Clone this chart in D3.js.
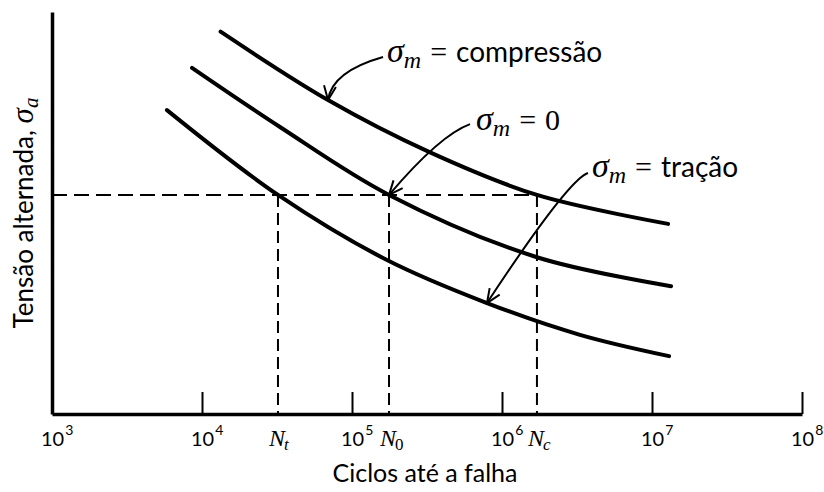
<!DOCTYPE html>
<html><head><meta charset="utf-8">
<script src="https://cdn.jsdelivr.net/npm/d3@7"></script>
<style>body{margin:0;background:#fff}</style>
</head><body>
<svg id="c" width="824" height="492"></svg>
<script>
// ---- data (cycles to failure, alternating stress in arbitrary units) ----
const decadeExponents = [3, 4, 5, 6, 7, 8];
const cyclesCompression = [13300, 69200, 326000, 1710000, 12800000];
const stressCompression = [95.1, 78.1, 65.2, 54.5, 47.3];
const cyclesZero = [8580, 33100, 176500, 1710000, 13400000];
const stressZero = [86.1, 71.4, 54.5, 39.0, 31.8];
const cyclesTension = [5840, 32100, 171000, 794000, 3310000, 13000000];
const stressTension = [75.6, 54.5, 38.3, 27.6, 19.7, 14.4];
const levelStress = 54.5;
const markedCycles = [32100, 176500, 1710000];
const markedSubs = ["t", "0", "c"];
const labelTexts = ["compressão", "0", "tração"];
// arrows: [start, control, tip] in (cycles, stress)
const arrowCompression = [[161000, 88.8], [73600, 85.2], [69200, 78.1]];
const arrowZero = [[612000, 72.1], [386000, 69.4], [176500, 54.5]];
const arrowTension = [[3740000, 59.95], [2750000, 58.2], [794000, 27.6]];

const svg = d3.select("#c");
const x = d3.scaleLog().domain([1e3, 1e8]).range([52, 802]);
const y = d3.scaleLinear().domain([0, 100]).range([414, 12]);
const sansFont = "Lato, 'Open Sans', sans-serif";
const mathFont = "'Liberation Serif', 'DejaVu Serif', serif";

// arrowhead marker
svg.append("defs").append("marker")
  .attr("id", "ah").attr("markerUnits", "userSpaceOnUse")
  .attr("viewBox", "-16 -8 18 16").attr("refX", 0).attr("refY", 0)
  .attr("markerWidth", 18).attr("markerHeight", 16).attr("orient", "auto")
  .append("path").attr("d", "M-14,-6 L0,0 L-14,6")
  .attr("fill", "none").attr("stroke", "#000").attr("stroke-width", 2);

// dashed guide lines
svg.append("line")
  .attr("x1", x(1e3)).attr("x2", x(markedCycles[2]))
  .attr("y1", y(levelStress)).attr("y2", y(levelStress))
  .attr("stroke", "#000").attr("stroke-width", 2).attr("stroke-dasharray", "15,7");
svg.selectAll(".vguide").data(markedCycles).enter().append("line")
  .attr("x1", d => x(d)).attr("x2", d => x(d))
  .attr("y1", y(levelStress)).attr("y2", y(0))
  .attr("stroke", "#000").attr("stroke-width", 2).attr("stroke-dasharray", "12,6");

// axes
const xAxis = svg.append("g").attr("transform", `translate(0,${y(0)})`)
  .call(d3.axisBottom(x).tickValues(decadeExponents.map(e => Math.pow(10, e)))
    .tickSize(-22).tickSizeOuter(0).tickFormat(""));
xAxis.select(".domain").attr("stroke-width", 3.5).attr("stroke", "#000");
xAxis.selectAll(".tick line").attr("stroke-width", 2).attr("stroke", "#000");

const yAxis = svg.append("g").attr("transform", `translate(${x(1e3)},0)`)
  .call(d3.axisLeft(y).tickValues([]).tickSizeOuter(0));
yAxis.select(".domain").attr("stroke-width", 3.5).attr("stroke", "#000");

// curves
const line = d3.line().x(d => x(d[0])).y(d => y(d[1])).curve(d3.curveCatmullRom.alpha(0.5));
const series = [
  d3.zip(cyclesCompression, stressCompression),
  d3.zip(cyclesZero, stressZero),
  d3.zip(cyclesTension, stressTension)
];
svg.selectAll(".curve").data(series).enter().append("path")
  .attr("d", line).attr("fill", "none").attr("stroke", "#000")
  .attr("stroke-width", 4).attr("stroke-linecap", "round");

// annotation arrows
const arrows = [arrowCompression, arrowZero, arrowTension];
arrows.forEach(a => {
  const p = a.map(d => [x(d[0]), y(d[1])]);
  const path = d3.path();
  path.moveTo(p[0][0], p[0][1]);
  path.quadraticCurveTo(p[1][0], p[1][1], p[2][0], p[2][1]);
  svg.append("path").attr("d", path.toString()).attr("fill", "none")
    .attr("stroke", "#000").attr("stroke-width", 2).attr("marker-end", "url(#ah)");
});

// annotation labels
const labelOffsets = [[4, 5], [6, 6], [4, 4]];
arrows.forEach((a, i) => {
  const sx = x(a[0][0]) + labelOffsets[i][0], sy = y(a[0][1]) + labelOffsets[i][1];
  const t = svg.append("text").attr("x", sx).attr("y", sy).attr("fill", "#000");
  t.append("tspan").attr("font-family", mathFont).attr("font-style", "italic")
    .attr("font-size", 34).text("σ");
  t.append("tspan").attr("font-family", mathFont).attr("font-style", "italic")
    .attr("font-size", 24).attr("dy", 6).text("m");
  t.append("tspan").attr("font-family", mathFont).attr("font-size", 30)
    .attr("dy", -6).attr("dx", 9).text("=");
  if (i === 1) {
    t.append("tspan").attr("font-family", mathFont).attr("font-size", 30)
      .attr("dx", 9).text(labelTexts[i]);
  } else {
    t.append("tspan").attr("font-family", sansFont).attr("font-size", 28)
      .attr("dx", 9).text(labelTexts[i]);
  }
});

// tick labels 10^n
decadeExponents.forEach(e => {
  const cx = x(Math.pow(10, e));
  const t = svg.append("text").attr("x", cx - 11).attr("y", 446)
    .attr("font-family", sansFont).attr("fill", "#000");
  t.append("tspan").attr("font-size", 20).text("10");
  t.append("tspan").attr("font-size", 14).attr("dy", -11).attr("dx", 1).text(e);
});

// N labels
markedCycles.forEach((c, i) => {
  const cx = x(c);
  const t = svg.append("text").attr("x", cx - 9).attr("y", 446)
    .attr("font-family", mathFont).attr("fill", "#000");
  t.append("tspan").attr("font-style", "italic").attr("font-size", 24).text("N");
  t.append("tspan").attr("font-style", i === 1 ? "normal" : "italic")
    .attr("font-size", 17).attr("dy", 4).attr("dx", -1).text(markedSubs[i]);
});

// axis titles
svg.append("text").attr("x", 425).attr("y", 482).attr("text-anchor", "middle")
  .attr("font-family", sansFont).attr("font-size", 25).attr("fill", "#000")
  .text("Ciclos até a falha");

const yt = svg.append("text")
  .attr("transform", `translate(33,${y(50)}) rotate(-90)`)
  .attr("text-anchor", "middle").attr("fill", "#000");
yt.append("tspan").attr("font-family", sansFont).attr("font-size", 26).text("Tensão alternada, ");
yt.append("tspan").attr("font-family", mathFont).attr("font-style", "italic").attr("font-size", 31).text("σ");
yt.append("tspan").attr("font-family", mathFont).attr("font-style", "italic").attr("font-size", 21).attr("dy", 5).text("a");
</script>
</body></html>
